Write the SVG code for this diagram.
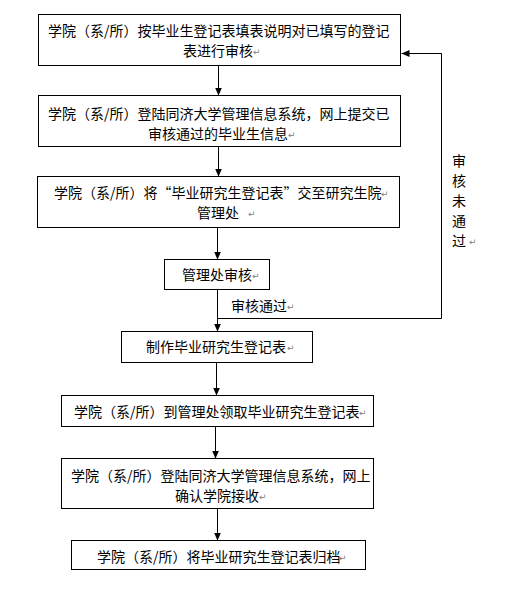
<svg xmlns="http://www.w3.org/2000/svg" width="510" height="590" viewBox="0 0 510 590">
<style>
.box{fill:#fff;stroke:#000;stroke-width:1}
.t{font-family:"Noto Sans CJK SC","Noto Sans CJK JP",sans-serif;font-size:14px;fill:#000}
.pm{font-family:"DejaVu Sans",sans-serif;font-size:9px;fill:#808080}
.c{fill:none;stroke:#000;stroke-width:1}
</style>
<defs>
<marker id="ah" markerUnits="userSpaceOnUse" markerWidth="8" markerHeight="7" refX="8" refY="3.5" orient="auto">
<path d="M0,0 L8,3.5 L0,7 z" fill="#000"/>
</marker>
</defs>
<rect x="0" y="0" width="510" height="590" fill="#fff"/>
<g id="connectors">
<line class="c" x1="218.5" y1="65.5" x2="218.5" y2="95.5" marker-end="url(#ah)"/>
<line class="c" x1="218.5" y1="146.5" x2="218.5" y2="176.5" marker-end="url(#ah)"/>
<line class="c" x1="217.5" y1="227.5" x2="217.5" y2="259.5" marker-end="url(#ah)"/>
<line class="c" x1="217.5" y1="289.5" x2="217.5" y2="331.5" marker-end="url(#ah)"/>
<line class="c" x1="216.5" y1="362.5" x2="216.5" y2="395.5" marker-end="url(#ah)"/>
<line class="c" x1="215.5" y1="426.5" x2="215.5" y2="458.5" marker-end="url(#ah)"/>
<line class="c" x1="217.5" y1="508.5" x2="217.5" y2="540.5" marker-end="url(#ah)"/>
<path class="c" d="M217.5,318.5 H441.5 V53.5 H401.5" marker-end="url(#ah)"/>
<text class="t" x="231" y="311">审核通过</text><text class="pm" x="287" y="310">↵</text>
<text class="t" x="459" y="166" text-anchor="middle">审</text>
<text class="t" x="459" y="186" text-anchor="middle">核</text>
<text class="t" x="459" y="206" text-anchor="middle">未</text>
<text class="t" x="459" y="226" text-anchor="middle">通</text>
<text class="t" x="459" y="246" text-anchor="middle">过</text>
<text class="pm" x="469" y="245">↵</text>
</g>
<g id="n1">
<rect class="box" x="38.5" y="14.5" width="362" height="51"/>
<text class="t" x="48" y="36">学院（系/所）按毕业生登记表填表说明对已填写的登记</text>
<text class="t" x="183" y="56">表进行审核</text><text class="pm" x="253" y="55">↵</text>
</g>
<g id="n2">
<rect class="box" x="38.5" y="95.5" width="362" height="51"/>
<text class="t" x="48" y="119">学院（系/所）登陆同济大学管理信息系统，网上提交已</text>
<text class="t" x="148" y="139">审核通过的毕业生信息</text><text class="pm" x="288" y="138">↵</text>
</g>
<g id="n3">
<rect class="box" x="37.5" y="176.5" width="362" height="51"/>
<text class="t" x="54" y="198">学院（系/所）将“毕业研究生登记表”交至研究生院</text><text class="pm" x="381" y="197">↵</text>
<text class="t" x="197" y="218">管理处</text><text class="pm" x="248" y="217">↵</text>
</g>
<g id="n4">
<rect class="box" x="164.5" y="259.5" width="105" height="30"/>
<text class="t" x="182" y="280">管理处审核</text><text class="pm" x="252" y="279">↵</text>
</g>
<g id="n5">
<rect class="box" x="121.5" y="331.5" width="191" height="31"/>
<text class="t" x="146" y="352">制作毕业研究生登记表</text><text class="pm" x="287" y="351">↵</text>
</g>
<g id="n6">
<rect class="box" x="61.5" y="395.5" width="312" height="31"/>
<text class="t" x="74" y="417">学院（系/所）到管理处领取毕业研究生登记表</text><text class="pm" x="359" y="416">↵</text>
</g>
<g id="n7">
<rect class="box" x="61.5" y="458.5" width="312" height="50"/>
<text class="t" x="71" y="481">学院（系/所）登陆同济大学管理信息系统，网上</text>
<text class="t" x="175" y="501">确认学院接收</text><text class="pm" x="259" y="500">↵</text>
</g>
<g id="n8">
<rect class="box" x="71.5" y="540.5" width="294" height="29"/>
<text class="t" x="97" y="562">学院（系/所）将毕业研究生登记表归档</text><text class="pm" x="339" y="561">↵</text>
</g>
</svg>
